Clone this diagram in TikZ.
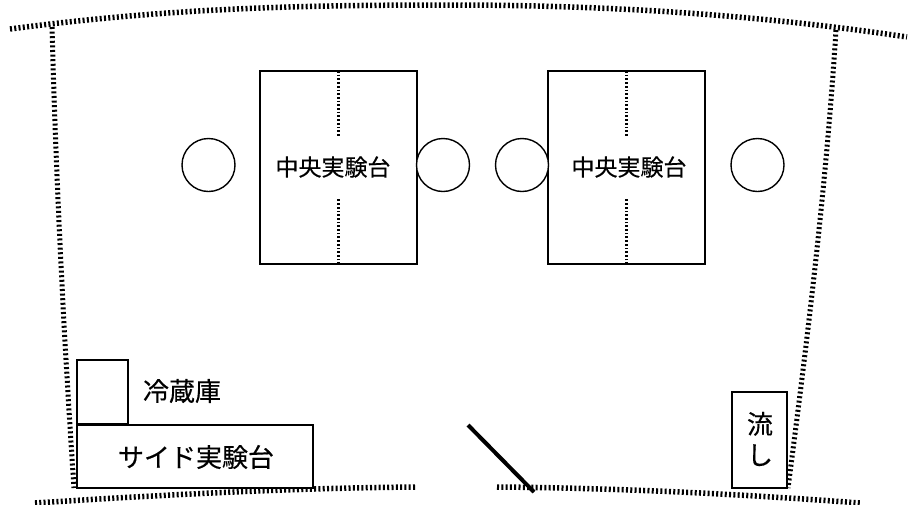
\documentclass[tikz,border=0pt]{standalone}
\usepackage{fontspec}
\newfontfamily\jp[FakeBold=0.35]{Noto Sans CJK JP}
\tikzset{
  x=1pt,y=-1pt,
  wall/.style={line width=5.5pt,dash pattern=on 2pt off 2.3pt,black},
  sidewall/.style={line width=5pt,dash pattern=on 2pt off 2.6pt,black},
  fixture/.style={draw=black,line width=2pt,fill=white,inner sep=0pt,outer sep=0pt},
  benchbox/.style={fixture,minimum width=157pt,minimum height=193pt},
  stool/.style={circle,draw=black,line width=1.4pt,fill=white,minimum size=53pt,inner sep=0pt},
  seam/.style={line width=2.4pt,dash pattern=on 1.7pt off 2pt,black},
  lbl/.style={font=\jp\fontsize{23}{25}\selectfont,inner sep=0pt,black},
  lblw/.style={font=\jp\fontsize{26}{31}\selectfont,inner sep=0pt,black}
}
\begin{document}
\begin{tikzpicture}
\useasboundingbox (0,0) rectangle (908,504);
% walls
\draw[wall] (10,29) .. controls (170,8) and (300,5) .. (450,5) .. controls (610,5) and (760,15) .. (907,37);
\draw[sidewall] (52,27) .. controls (56,180) and (64,340) .. (74,488);
\draw[sidewall] (836,30) .. controls (826,190) and (806,350) .. (788,488);
\draw[wall] (35,503) .. controls (160,495) and (290,488) .. (416,487);
\draw[wall] (497,487) .. controls (620,488) and (740,494) .. (860,503);
% benches
\node[benchbox] (benchA) at (338.5,167.5) {};
\node[benchbox] (benchB) at (626.5,167.5) {};
\coordinate (aTop) at (benchA.north);
\coordinate (aBot) at (benchA.south);
\coordinate (bTop) at (benchB.north);
\coordinate (bBot) at (benchB.south);
\draw[seam] (aTop) -- ++(0,66);
\draw[seam] (aBot) -- ++(0,-66);
\draw[seam] (bTop) -- ++(0,66);
\draw[seam] (bBot) -- ++(0,-66);
\node[lbl] (labelA) at (333,167) {中央実験台};
\node[lbl] (labelB) at (629,167) {中央実験台};
% stools
\node[stool] (s1) at (208.5,165) {};
\node[stool] (s2) at (443,165) {};
\node[stool] (s3) at (522,165) {};
\node[stool] (s4) at (757.5,165) {};
% side furniture
\node[fixture,minimum width=51pt,minimum height=64pt] (fridge) at (102,392) {};
\node[fixture,minimum width=236pt,minimum height=63pt] (side) at (194.5,456) {};
\node[lblw] (fridgeLabel) at (182,391) {冷蔵庫};
\node[lblw] (sideLabel) at (196,457) {サイド実験台};
\node[fixture,minimum width=55pt,minimum height=96pt] (sink) at (759.5,440) {};
\node[lblw,align=center] (sinkLabel) at (760,439) {流\\し};
% door
\coordinate (doorA) at (468,425);
\coordinate (doorB) at (534,492);
\draw[line width=4pt,black] (doorA) -- (doorB);
\end{tikzpicture}
\end{document}
